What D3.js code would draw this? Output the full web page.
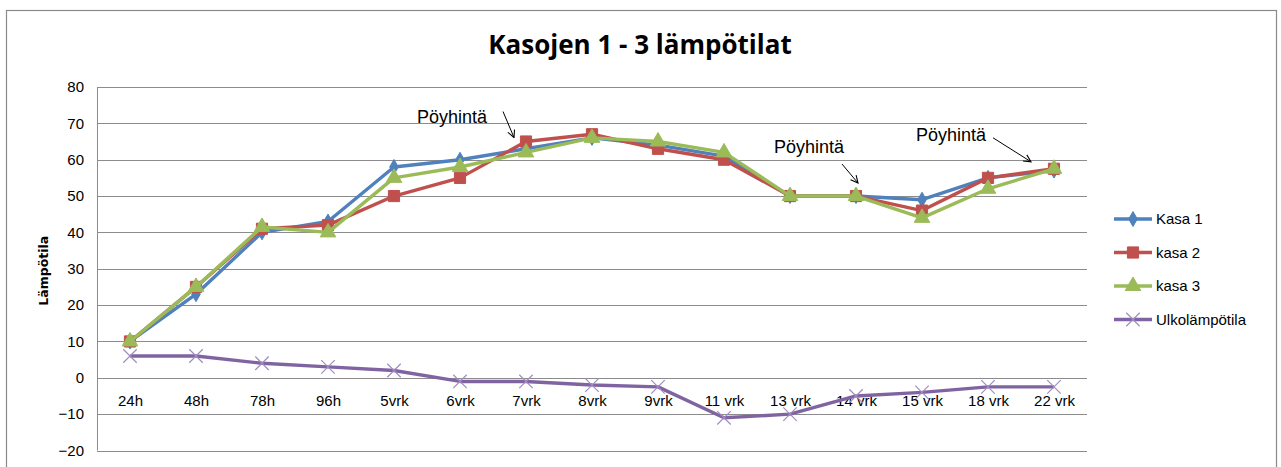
<!DOCTYPE html>
<html>
<head>
<meta charset="utf-8">
<script src="https://cdn.jsdelivr.net/npm/d3@7"></script>
<style>
  body { margin: 0; background: #fff; }
  svg { display: block; }
  .grid line { stroke: #8c8c8c; stroke-width: 1; shape-rendering: crispEdges; }
  .grid path { display: none; }
  .axis text { font-family: "Liberation Sans", Arial, sans-serif; font-size: 15px; fill: #000; }
  .axis path, .axis line { display: none; }
</style>
</head>
<body>
<svg id="chart" width="1281" height="467"></svg>
<script>
// categories (x axis)
var categories = ["24h", "48h", "78h", "96h", "5vrk", "6vrk", "7vrk", "8vrk", "9vrk",
  "11 vrk", "13 vrk", "14 vrk", "15 vrk", "18 vrk", "22 vrk"];

// series values
var kasa1 = [10, 23, 40, 43, 58, 60, 63, 66, 64, 61, 50, 50, 49, 55, 57];
var kasa2 = [10, 25, 41, 42, 50, 55, 65, 67, 63, 60, 50, 50, 46, 55, 57.5];
var kasa3 = [10, 25, 41.5, 40, 55, 58, 62, 66, 65, 62, 50, 50, 44, 52, 57.5];
var ulko  = [6, 6, 4, 3, 2, -1, -1, -2, -2.5, -11, -10, -5, -4, -2.5, -2.5];

var seriesNames = ["Kasa 1", "kasa 2", "kasa 3", "Ulkolämpötila"];
var yTicks = [-20, -10, 0, 10, 20, 30, 40, 50, 60, 70, 80];

// "Pöyhintä" notes: category the arrow points at and the value there
var noteCats = ["7vrk", "14 vrk", "22 vrk"];
var noteVals = [65, 50, 57.5];

var colors = ["#4f81bd", "#c0504d", "#9bbb59", "#8064a2"];
var symbols = [d3.symbolDiamond, d3.symbolSquare, d3.symbolTriangle, d3.symbolTimes];
var sizes = [64, 125, 105, 120];

var svg = d3.select("#chart");

// outer chart border
svg.append("rect")
  .attr("x", 6.5).attr("y", 10.5)
  .attr("width", 1270).attr("height", 470)
  .attr("fill", "#fff").attr("stroke", "#8a8a8a").attr("stroke-width", 1.2);

var plot = {left: 97, right: 1087, top: 87, bottom: 450.5};

var x = d3.scalePoint().domain(categories).range([plot.left, plot.right]).padding(0.5);
var y = d3.scaleLinear().domain([-20, 80]).range([plot.bottom, plot.top]);

// title
svg.append("text")
  .attr("x", 640).attr("y", 54)
  .attr("text-anchor", "middle")
  .attr("font-family", "'Open Sans', sans-serif")
  .attr("font-weight", 700)
  .attr("font-size", 26)
  .text("Kasojen 1 - 3 lämpötilat");

// horizontal gridlines
svg.append("g")
  .attr("class", "grid")
  .attr("transform", "translate(" + plot.left + ",0)")
  .call(d3.axisLeft(y).tickValues(yTicks).tickSize(-(plot.right - plot.left)).tickFormat(""));

// value axis line
svg.append("line")
  .attr("x1", plot.left + 0.5).attr("x2", plot.left + 0.5)
  .attr("y1", plot.top).attr("y2", plot.bottom)
  .attr("stroke", "#8c8c8c");

// y tick labels
svg.append("g")
  .attr("class", "axis")
  .attr("transform", "translate(" + plot.left + ",0)")
  .call(d3.axisLeft(y).tickValues(yTicks).tickSize(0).tickPadding(13));

// category labels sit under the 0 line
svg.append("g")
  .attr("class", "axis")
  .attr("transform", "translate(0," + y(0) + ")")
  .call(d3.axisBottom(x).tickSize(0).tickPadding(18));

// y axis title
svg.append("text")
  .attr("transform", "translate(48," + ((plot.top + plot.bottom) / 2 + 2) + ") rotate(-90)")
  .attr("text-anchor", "middle")
  .attr("font-family", "'DejaVu Sans', sans-serif")
  .attr("font-weight", "bold")
  .attr("font-size", 12.5)
  .text("Lämpötila");

var allSeries = [kasa1, kasa2, kasa3, ulko];

var line = d3.line()
  .x(function(d, i) { return x(categories[i]); })
  .y(function(d) { return y(d); });

var drawMarker = function(sel, k) {
  sel.attr("d", d3.symbol().type(symbols[k]).size(sizes[k]));
  if (k === 3) {
    sel.attr("fill", "none").attr("stroke", "#a08dc0").attr("stroke-width", 1.2);
  } else {
    sel.attr("fill", colors[k]).attr("stroke", colors[k]).attr("stroke-width", 1);
  }
};

allSeries.forEach(function(vals, k) {
  var g = svg.append("g");
  g.append("path")
    .datum(vals)
    .attr("d", line)
    .attr("fill", "none")
    .attr("stroke", colors[k])
    .attr("stroke-width", 3.4)
    .attr("stroke-linejoin", "round");
  g.selectAll("path.m")
    .data(vals)
    .enter().append("path")
    .attr("class", "m")
    .attr("transform", function(d, i) { return "translate(" + x(categories[i]) + "," + y(d) + ")"; })
    .each(function() { drawMarker(d3.select(this), k); });
});

// legend
var legend = svg.append("g")
  .selectAll("g")
  .data(seriesNames)
  .enter().append("g")
  .attr("transform", function(d, i) { return "translate(1114," + (219 + i * 33.5) + ")"; });

legend.append("line")
  .attr("x1", 0).attr("x2", 38)
  .attr("stroke", function(d, i) { return colors[i]; })
  .attr("stroke-width", 3.4);

legend.append("path")
  .attr("transform", "translate(19,0)")
  .each(function(d, i) { drawMarker(d3.select(this), i); });

legend.append("text")
  .attr("x", 42)
  .attr("dy", "0.35em")
  .attr("font-family", "'Liberation Sans', Arial, sans-serif")
  .attr("font-size", 15)
  .text(function(d) { return d; });

// annotations
var defs = svg.append("defs");
defs.append("marker")
  .attr("id", "arr")
  .attr("viewBox", "0 0 10 10")
  .attr("refX", 9).attr("refY", 5)
  .attr("markerWidth", 9).attr("markerHeight", 9)
  .attr("orient", "auto")
  .append("path")
  .attr("d", "M1,1 L9,5 L1,9")
  .attr("fill", "none")
  .attr("stroke", "#000")
  .attr("stroke-width", 1.2);

// text offset and arrow start/end relative to the pointed data point
var noteLayout = [
  {tx: -109, ty: -19, x1: -23, y1: -30, x2: -12, y2: -4},
  {tx: -82, ty: -43, x1: -14, y1: -32, x2: 2, y2: -13},
  {tx: -138, ty: -28, x1: -61, y1: -31, x2: -23, y2: -7}
];

noteCats.forEach(function(c, i) {
  var px = x(c), py = y(noteVals[i]), L = noteLayout[i];
  svg.append("text")
    .attr("x", px + L.tx).attr("y", py + L.ty)
    .attr("font-family", "'Liberation Sans', Arial, sans-serif")
    .attr("font-size", 18)
    .text("Pöyhintä");
  svg.append("line")
    .attr("x1", px + L.x1).attr("y1", py + L.y1)
    .attr("x2", px + L.x2).attr("y2", py + L.y2)
    .attr("stroke", "#000").attr("stroke-width", 1)
    .attr("marker-end", "url(#arr)");
});
</script>
</body>
</html>
